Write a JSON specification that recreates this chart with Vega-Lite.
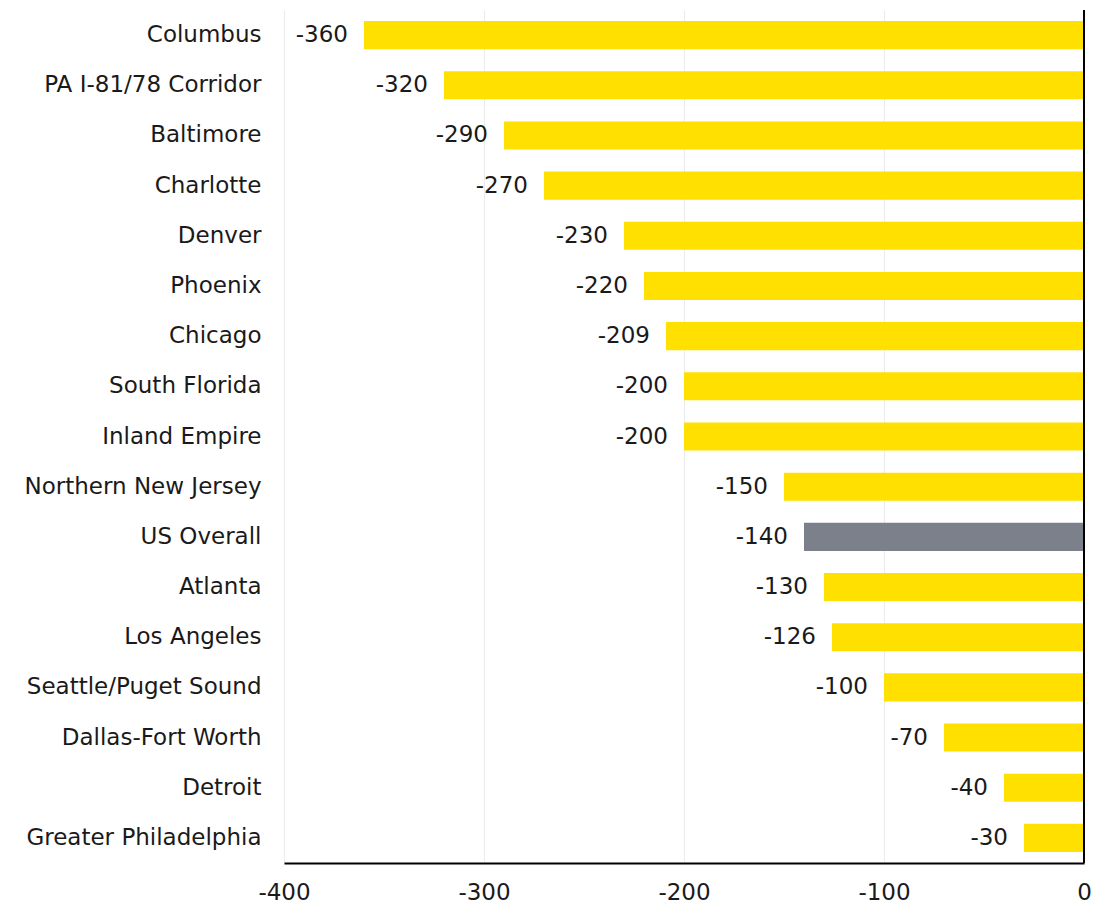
{
  "$schema": "https://vega.github.io/schema/vega-lite/v6.json",
  "width": 800,
  "height": 853,
  "autosize": {"type": "none"},
  "padding": {"left": 284, "top": 10, "right": 10, "bottom": 53},
  "background": "white",
  "config": {
    "view": {"stroke": null},
    "font": "DejaVu Sans",
    "locale": {"number": {"decimal": ".", "thousands": ",", "grouping": [3], "currency": ["$", ""], "minus": "-"}}
  },
  "data": {"values": [
    {"market": "Columbus", "value": -360, "type": "market"},
    {"market": "PA I-81/78 Corridor", "value": -320, "type": "market"},
    {"market": "Baltimore", "value": -290, "type": "market"},
    {"market": "Charlotte", "value": -270, "type": "market"},
    {"market": "Denver", "value": -230, "type": "market"},
    {"market": "Phoenix", "value": -220, "type": "market"},
    {"market": "Chicago", "value": -209, "type": "market"},
    {"market": "South Florida", "value": -200, "type": "market"},
    {"market": "Inland Empire", "value": -200, "type": "market"},
    {"market": "Northern New Jersey", "value": -150, "type": "market"},
    {"market": "US Overall", "value": -140, "type": "overall"},
    {"market": "Atlanta", "value": -130, "type": "market"},
    {"market": "Los Angeles", "value": -126, "type": "market"},
    {"market": "Seattle/Puget Sound", "value": -100, "type": "market"},
    {"market": "Dallas-Fort Worth", "value": -70, "type": "market"},
    {"market": "Detroit", "value": -40, "type": "market"},
    {"market": "Greater Philadelphia", "value": -30, "type": "market"}
  ]},
  "encoding": {
    "y": {
      "field": "market", "type": "nominal", "sort": null, "title": null,
      "scale": {"paddingInner": 0.44, "paddingOuter": 0.22},
      "axis": {"domain": false, "ticks": false, "labelFontSize": 23, "labelColor": "#1a1a1a", "labelPadding": 23, "labelFont": "DejaVu Sans", "labelLimit": 300}
    }
  },
  "layer": [
    {
      "mark": {"type": "bar"},
      "encoding": {
        "x": {
          "field": "value", "type": "quantitative", "title": null,
          "scale": {"domain": [-400, 0], "nice": false},
          "axis": {"values": [-400, -300, -200, -100, 0], "ticks": false, "domainColor": "#000", "domainWidth": 2, "gridColor": "#ebebeb", "gridWidth": 1, "labelFontSize": 23, "labelColor": "#1a1a1a", "labelPadding": 18, "labelFont": "DejaVu Sans", "labelFlush": false}
        },
        "color": {
          "field": "type", "type": "nominal", "legend": null,
          "scale": {"domain": ["market", "overall"], "range": ["#FFE000", "#7B808A"]}
        }
      }
    },
    {
      "mark": {"type": "text", "align": "right", "baseline": "middle", "dx": -16, "fontSize": 23, "color": "#1a1a1a", "font": "DejaVu Sans"},
      "encoding": {
        "x": {"field": "value", "type": "quantitative"},
        "text": {"field": "value", "type": "quantitative"}
      }
    },
    {
      "data": {"values": [{"v": 0}]},
      "mark": {"type": "rule", "color": "#000", "strokeWidth": 2},
      "encoding": {"x": {"field": "v", "type": "quantitative"}, "y": {"value": 0}, "y2": {"value": 853}}
    }
  ]
}
